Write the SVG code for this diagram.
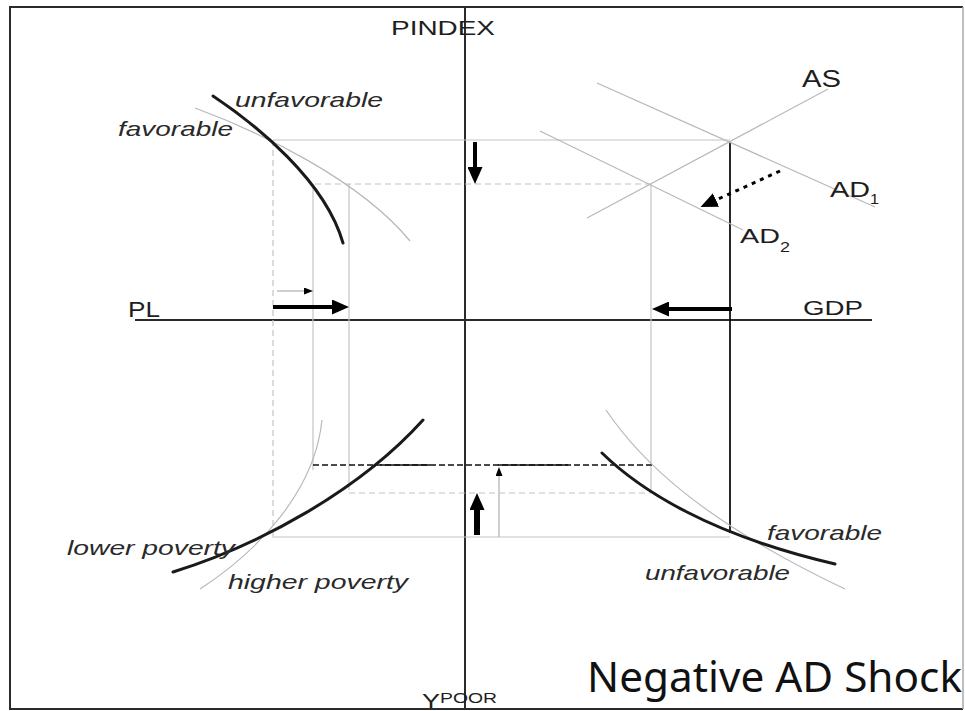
<svg xmlns="http://www.w3.org/2000/svg" width="965" height="711" viewBox="0 0 965 711">
  <style>
    .lbl { font-family: "Liberation Sans", Arial, sans-serif; fill: #1e1e1e; }
    .it { font-family: "Liberation Sans", Arial, sans-serif; font-style: italic; fill: #2a2a2a; font-size: 21px; }
    .axis { stroke: #2b2b2b; stroke-width: 2; fill: none; }
    .guide { stroke: #c4c4c4; stroke-width: 1.2; fill: none; }
    .guide-dash { stroke: #c4c4c4; stroke-width: 1.2; fill: none; stroke-dasharray: 6 4; }
    .curve { stroke: #1a1a1a; stroke-width: 3; fill: none; stroke-linecap: round; }
    .curve-thin { stroke: #b8b8b8; stroke-width: 1.2; fill: none; }
    .thick { stroke: #000; stroke-width: 4; fill: none; }
    .small { stroke: #b0b0b0; stroke-width: 1.2; fill: none; }
  </style>
  <defs>
    <marker id="head" markerUnits="userSpaceOnUse" markerWidth="17" markerHeight="15" refX="0" refY="7.5" orient="auto">
      <path d="M0,0 L17,7.5 L0,15 z" fill="#000"/>
    </marker>
    <marker id="head-small" markerUnits="userSpaceOnUse" markerWidth="9" markerHeight="7" refX="0" refY="3.5" orient="auto">
      <path d="M0,0 L9,3.5 L0,7 z" fill="#000"/>
    </marker>
  </defs>

  <rect width="965" height="711" fill="#fff"/>

  <!-- frame -->
  <g id="frame">
    <path d="M963,7 L10,7 L10,709 L963,709" class="axis"/>
    <line x1="963" y1="7" x2="963" y2="709" stroke="#aaa" stroke-width="1.5"/>
  </g>

  <!-- axes -->
  <g id="axes">
    <line x1="465" y1="7" x2="465" y2="709" class="axis"/>
    <line x1="135" y1="320" x2="872" y2="320" class="axis"/>
  </g>

  <!-- guide lines linking the quadrants -->
  <g id="guides">
    <line x1="273" y1="140" x2="730" y2="140" class="guide"/>
    <line x1="315" y1="184" x2="650" y2="184" class="guide-dash"/>
    <line x1="273" y1="140" x2="273" y2="537" class="guide-dash"/>
    <line x1="313" y1="184" x2="313" y2="470" class="guide"/>
    <line x1="349" y1="184" x2="349" y2="490" class="guide"/>
    <line x1="651" y1="184" x2="651" y2="493" class="guide"/>
    <line x1="349" y1="493" x2="651" y2="493" class="guide-dash"/>
    <line x1="272" y1="537" x2="730" y2="537" class="guide"/>
    <line x1="730" y1="142" x2="730" y2="533" stroke="#111" stroke-width="1.8"/>
    <!-- shifted income line -->
    <line x1="313" y1="465" x2="652" y2="465" stroke="#111" stroke-width="1.6" stroke-dasharray="6 3"/>
    <line x1="380" y1="465" x2="430" y2="465" stroke="#111" stroke-width="1.6"/>
    <line x1="498" y1="465" x2="568" y2="465" stroke="#111" stroke-width="1.6"/>
  </g>

  <!-- AD-AS quadrant -->
  <g id="ad-as">
    <line x1="587" y1="218" x2="828" y2="89" class="curve-thin"/>
    <line x1="597" y1="83" x2="875" y2="207" class="curve-thin"/>
    <line x1="540" y1="131" x2="743" y2="230" class="curve-thin"/>
  </g>

  <!-- price-level quadrant -->
  <g id="price-quadrant">
    <path d="M195,108 C260,132 360,180 410,241" class="curve-thin"/>
    <path d="M213,96 C255,124 325,180 343,243" class="curve"/>
  </g>

  <!-- poverty quadrant -->
  <g id="poverty-quadrant">
    <path d="M200,589 C260,550 315,490 322,420" class="curve-thin"/>
    <path d="M173,572 C260,545 360,490 423,420" class="curve"/>
  </g>

  <!-- GDP quadrant -->
  <g id="gdp-quadrant">
    <path d="M606,410 C640,460 700,520 845,589" class="curve-thin"/>
    <path d="M602,453 C640,490 710,535 835,564" class="curve"/>
  </g>

  <!-- shift arrows -->
  <g id="arrows">
    <line x1="475" y1="142" x2="475" y2="167" class="thick" marker-end="url(#head)"/>
    <line x1="477" y1="535" x2="477" y2="510" stroke="#000" stroke-width="6" marker-end="url(#head)"/>
    <line x1="273" y1="307" x2="332" y2="307" class="thick" marker-end="url(#head)"/>
    <line x1="732" y1="309" x2="669" y2="309" class="thick" marker-end="url(#head)"/>
    <line x1="780" y1="171" x2="716" y2="200" stroke="#000" stroke-width="3" stroke-dasharray="4 5" marker-end="url(#head)"/>
    <line x1="277" y1="291" x2="304" y2="291" class="small" marker-end="url(#head-small)"/>
    <line x1="499" y1="537" x2="499" y2="476" class="small" marker-end="url(#head-small)"/>
  </g>

  <!-- labels -->
  <g id="labels">
    <text class="lbl" x="391" y="35" font-size="21" textLength="104" lengthAdjust="spacingAndGlyphs">PINDEX</text>
    <text class="lbl" x="802" y="87" font-size="23" textLength="39" lengthAdjust="spacingAndGlyphs">AS</text>
    <text class="lbl" x="830" y="197" font-size="22" textLength="40" lengthAdjust="spacingAndGlyphs">AD</text>
    <text class="lbl" x="870" y="204" font-size="15" textLength="9" lengthAdjust="spacingAndGlyphs">1</text>
    <text class="lbl" x="740" y="243" font-size="21" textLength="40" lengthAdjust="spacingAndGlyphs">AD</text>
    <text class="lbl" x="780" y="252" font-size="15" textLength="10" lengthAdjust="spacingAndGlyphs">2</text>
    <text class="lbl" x="803" y="315" font-size="21" textLength="60" lengthAdjust="spacingAndGlyphs">GDP</text>
    <text class="lbl" x="128" y="317" font-size="22" textLength="32" lengthAdjust="spacingAndGlyphs">PL</text>
    <text class="lbl" x="422" y="708" font-size="20" textLength="18" lengthAdjust="spacingAndGlyphs">Y</text>
    <text class="lbl" x="440" y="703" font-size="14" textLength="57" lengthAdjust="spacingAndGlyphs">POOR</text>

    <text class="it" x="235" y="107" textLength="148" lengthAdjust="spacingAndGlyphs">unfavorable</text>
    <text class="it" x="118" y="136" textLength="115" lengthAdjust="spacingAndGlyphs">favorable</text>
    <text class="it" x="67" y="555" textLength="168" lengthAdjust="spacingAndGlyphs">lower poverty</text>
    <text class="it" x="228" y="589" textLength="180" lengthAdjust="spacingAndGlyphs">higher poverty</text>
    <text class="it" x="767" y="540" textLength="115" lengthAdjust="spacingAndGlyphs">favorable</text>
    <text class="it" x="645" y="580" textLength="145" lengthAdjust="spacingAndGlyphs">unfavorable</text>

    <text x="587" y="692" font-family="'Noto Sans', 'DejaVu Sans', sans-serif" font-size="41" fill="#111" textLength="375" lengthAdjust="spacingAndGlyphs">Negative AD Shock</text>
  </g>
</svg>
